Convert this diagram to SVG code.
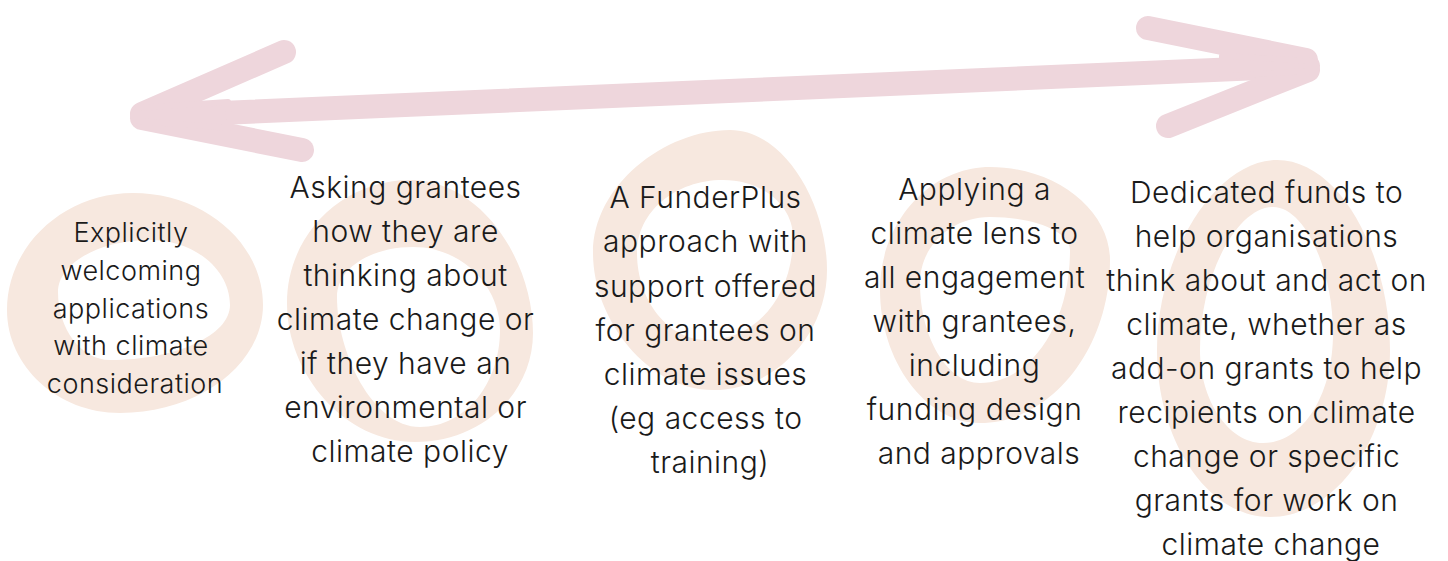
<svg xmlns="http://www.w3.org/2000/svg" width="1448" height="561" viewBox="0 0 1448 561">
  <style>
    .ring { fill: #f7e8df; fill-rule: evenodd; }
    .arrow { fill: none; stroke: #eed6dc; stroke-width: 24; stroke-linecap: round; stroke-linejoin: round; }
    .head { fill: #eed6dc; stroke: #eed6dc; stroke-width: 6; stroke-linejoin: round; }
    .label { font-family: "Inter", "Liberation Sans", sans-serif; font-weight: 300; fill: #1a1a1a; text-anchor: middle; letter-spacing: 0.5px; }
    .small { font-size: 27px; }
    .big { font-size: 30px; }
  </style>
  <rect width="1448" height="561" fill="#ffffff"/>

  <!-- double-headed brush arrow -->
  <g id="connectors">
    <path class="arrow" d="M 150 116 C 500 104, 900 80, 1308 66"/>
    <path class="arrow" d="M 142 114 L 284 52"/>
    <path class="arrow" d="M 142 118 L 302 150"/>
    <path class="arrow" d="M 1148 28 L 1306 60"/>
    <path class="arrow" d="M 1168 126 L 1308 70"/>
    <!-- filled wedges where the barbs meet the shaft -->
    <polygon class="head" points="138,108 228,102 230,128 138,121"/>
    <polygon class="head" points="1222,56 1312,61 1312,71 1222,76"/>
  </g>

  <!-- stage 1 -->
  <g id="node1">
    <path class="ring" d="M 133 193 C 204.5 193, 263 243.4, 263 305 C 263 364.4, 198.7 413, 120 413 C 57.9 413, 7 366.7, 7 310 C 7 245.7, 63.7 193, 133 193 Z
      M 150 240 C 194 240, 230 269.3, 230 305 C 230 335.3, 176 360, 110 360 C 81.4 360, 58 329.4, 58 292 C 58 263.4, 99.4 240, 150 240 Z"/>
    <text class="label small">
      <tspan x="135" y="242">Explicitly</tspan>
      <tspan x="135" y="280">welcoming</tspan>
      <tspan x="135" y="318">applications</tspan>
      <tspan x="135" y="355">with climate</tspan>
      <tspan x="135" y="393">consideration</tspan>
    </text>
  </g>

  <!-- stage 2 -->
  <g id="node2">
    <path class="ring" d="M 410 180 C 483 180, 533 263, 533 333 C 533 393, 482 442, 415 442 C 345 442, 287 375, 287 303 C 287 235, 342 180, 410 180 Z
      M 413 247 C 463 247, 500 287, 500 330 C 500 383, 466 427, 420 427 C 372 427, 337 352, 337 297 C 337 268, 371 247, 413 247 Z"/>
    <text class="label big">
      <tspan x="410" y="198">Asking grantees</tspan>
      <tspan x="410" y="242">how they are</tspan>
      <tspan x="410" y="286">thinking about</tspan>
      <tspan x="410" y="330">climate change or</tspan>
      <tspan x="410" y="374">if they have an</tspan>
      <tspan x="410" y="418">environmental or</tspan>
      <tspan x="410" y="462">climate policy</tspan>
    </text>
  </g>

  <!-- stage 3 -->
  <g id="node3">
    <path class="ring" d="M 730 130 C 785 130, 827 205, 827 270 C 827 335, 775 390, 713 390 C 648 390, 593 320, 593 253 C 593 185, 665 130, 730 130 Z
      M 723 180 C 762 180, 793 205, 793 237 C 793 295, 757 340, 707 340 C 668 340, 637 300, 637 253 C 637 212, 675 180, 723 180 Z"/>
    <text class="label big">
      <tspan x="710" y="208">A FunderPlus</tspan>
      <tspan x="710" y="252">approach with</tspan>
      <tspan x="710" y="297">support offered</tspan>
      <tspan x="710" y="341">for grantees on</tspan>
      <tspan x="710" y="385">climate issues</tspan>
      <tspan x="710" y="429">(eg access to</tspan>
      <tspan x="710" y="473">training)</tspan>
    </text>
  </g>

  <!-- stage 4 -->
  <g id="node4">
    <path class="ring" d="M 990 167 C 1056 167, 1110 210, 1110 260 C 1110 350, 1050 423, 980 423 C 925 423, 880 360, 880 290 C 880 222, 930 167, 990 167 Z
      M 990 217 C 1035 217, 1070 232, 1070 250 C 1070 325, 1030 383, 980 383 C 947 383, 920 337, 920 283 C 920 247, 950 217, 990 217 Z"/>
    <text class="label big">
      <tspan x="979" y="200">Applying a</tspan>
      <tspan x="979" y="244">climate lens to</tspan>
      <tspan x="979" y="288">all engagement</tspan>
      <tspan x="979" y="332">with grantees,</tspan>
      <tspan x="979" y="376">including</tspan>
      <tspan x="979" y="420">funding design</tspan>
      <tspan x="979" y="464">and approvals</tspan>
    </text>
  </g>

  <!-- stage 5 -->
  <g id="node5">
    <path class="ring" d="M 1277 160 C 1340 160, 1390 255, 1390 350 C 1390 440, 1335 517, 1270 517 C 1207 517, 1157 440, 1157 350 C 1157 255, 1215 160, 1277 160 Z
      M 1273 207 C 1305 207, 1333 270, 1333 333 C 1333 395, 1303 443, 1263 443 C 1228 443, 1200 400, 1200 350 C 1200 275, 1237 207, 1273 207 Z"/>
    <text class="label big">
      <tspan x="1271" y="203">Dedicated funds to</tspan>
      <tspan x="1271" y="247">help organisations</tspan>
      <tspan x="1271" y="291">think about and act on</tspan>
      <tspan x="1271" y="335">climate, whether as</tspan>
      <tspan x="1271" y="379">add-on grants to help</tspan>
      <tspan x="1271" y="423">recipients on climate</tspan>
      <tspan x="1271" y="467">change or specific</tspan>
      <tspan x="1271" y="511">grants for work on</tspan>
      <tspan x="1271" y="555">climate change</tspan>
    </text>
  </g>
</svg>
